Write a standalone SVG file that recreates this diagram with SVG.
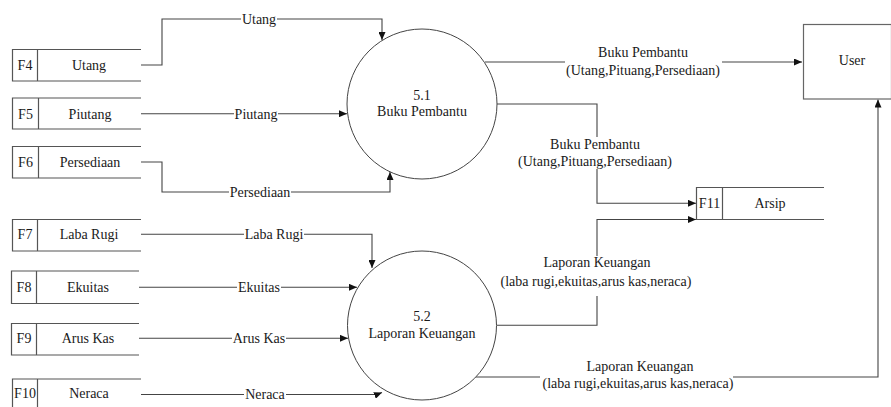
<svg xmlns="http://www.w3.org/2000/svg" width="891" height="407" viewBox="0 0 891 407">
<defs>
<marker id="arr" markerUnits="userSpaceOnUse" markerWidth="8" markerHeight="7" refX="8" refY="3.5" orient="auto">
<path d="M0,0 L8,3.5 L0,7 z" fill="#111"/>
</marker>
<style>
text{font-family:"Liberation Serif","Times New Roman",serif;font-size:14px;fill:#1a1a1a;text-anchor:middle}
.st{fill:none;stroke:#555;stroke-width:1.2}
.proc{fill:#fff;stroke:#444;stroke-width:1}
.ent{fill:#fff;stroke:#666;stroke-width:1.2}
.cn{fill:none;stroke:#444;stroke-width:1.1;marker-end:url(#arr)}
.bg{fill:#fff;stroke:none}
</style>
</defs>
<rect width="891" height="407" fill="#fff"/>

<g id="connectors">
<path class="cn" d="M141,65 H162 V19 H382 V40"/>
<path class="cn" d="M141,113.7 H347"/>
<path class="cn" d="M141,162 H162 V192 H390 V172"/>
<path class="cn" d="M141,234.3 H372 V268"/>
<path class="cn" d="M139,287.3 H357"/>
<path class="cn" d="M139,338.3 H348"/>
<path class="cn" d="M141,394.5 H377 L382,392.5"/>
<path class="cn" d="M485,62 H802"/>
<path class="cn" d="M497,104 H597 V203.3 H696"/>
<path class="cn" d="M497,325.3 H597 V219.5 H696"/>
<path class="cn" d="M476,377 H878 V99.5"/>
</g>

<g id="labels">
<rect class="bg" x="241" y="12" width="36" height="14"/>
<text x="259" y="24">Utang</text>
<rect class="bg" x="234" y="107" width="44" height="14"/>
<text x="256" y="118.5">Piutang</text>
<rect class="bg" x="229" y="185" width="62" height="14"/>
<text x="260" y="197">Persediaan</text>
<rect class="bg" x="244" y="227" width="60" height="14"/>
<text x="274" y="239">Laba Rugi</text>
<rect class="bg" x="237" y="280" width="44" height="14"/>
<text x="259" y="292">Ekuitas</text>
<rect class="bg" x="232" y="331" width="54" height="14"/>
<text x="259" y="343">Arus Kas</text>
<rect class="bg" x="244" y="387" width="42" height="14"/>
<text x="265" y="399">Neraca</text>

<rect class="bg" x="565" y="42" width="157" height="38"/>
<text x="643" y="57">Buku Pembantu</text>
<text x="643" y="75">(Utang,Pituang,Persediaan)</text>

<rect class="bg" x="516" y="137" width="158" height="32"/>
<text x="595" y="149">Buku Pembantu</text>
<text x="595" y="166">(Utang,Pituang,Persediaan)</text>

<rect class="bg" x="497" y="256" width="198" height="40"/>
<text x="597" y="267">Laporan Keuangan</text>
<text x="596" y="286">(laba rugi,ekuitas,arus kas,neraca)</text>

<rect class="bg" x="540" y="358" width="193" height="33"/>
<text x="640" y="371">Laporan Keuangan</text>
<text x="638" y="388">(laba rugi,ekuitas,arus kas,neraca)</text>
</g>

<g id="F4">
<path class="st" d="M141,49.5 H12.5 V81 H141 M37.5,49.5 V81"/>
<text x="25" y="70">F4</text>
<text x="89" y="70">Utang</text>
</g>
<g id="F5">
<path class="st" d="M141,98 H12.5 V129 H141 M38.5,98 V129"/>
<text x="25.5" y="118.5">F5</text>
<text x="90" y="118.5">Piutang</text>
</g>
<g id="F6">
<path class="st" d="M141,146.5 H12.5 V178 H141 M38.5,146.5 V178"/>
<text x="25.5" y="167">F6</text>
<text x="90" y="167">Persediaan</text>
</g>
<g id="F7">
<path class="st" d="M141,219.5 H12.5 V251 H141 M37.5,219.5 V251"/>
<text x="25" y="239">F7</text>
<text x="89" y="239">Laba Rugi</text>
</g>
<g id="F8">
<path class="st" d="M139,271 H11.5 V303.5 H139 M36.5,271 V303.5"/>
<text x="24" y="292">F8</text>
<text x="88" y="292">Ekuitas</text>
</g>
<g id="F9">
<path class="st" d="M139,323.5 H11.5 V355 H139 M36.5,323.5 V355"/>
<text x="24" y="343">F9</text>
<text x="88" y="343">Arus Kas</text>
</g>
<g id="F10">
<path class="st" d="M141,379 H12.5 V412 M37.5,379 V412"/>
<text x="25" y="398">F10</text>
<text x="89" y="398">Neraca</text>
</g>
<g id="F11">
<path class="st" d="M824,187.5 H696.5 V219.5 H824 M722.5,187.5 V219.5"/>
<text x="709.5" y="208">F11</text>
<text x="770" y="208">Arsip</text>
</g>

<g id="P5_1">
<circle class="proc" cx="422" cy="104" r="75"/>
<text x="422" y="100">5.1</text>
<text x="422" y="116">Buku Pembantu</text>
</g>
<g id="P5_2">
<circle class="proc" cx="422" cy="325.5" r="74.5"/>
<text x="422" y="321">5.2</text>
<text x="422" y="337.5">Laporan Keuangan</text>
</g>

<g id="User">
<rect class="ent" x="803.5" y="24.5" width="88" height="74.5"/>
<text x="852" y="65">User</text>
</g>
</svg>
